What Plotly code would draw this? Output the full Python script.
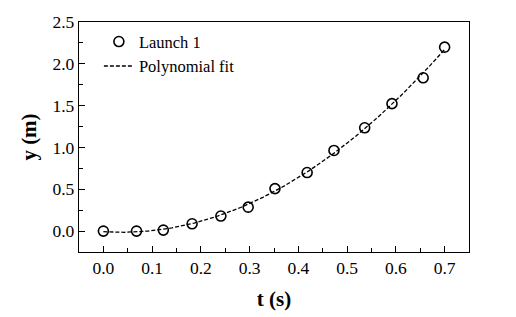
import numpy as np
import plotly.graph_objects as go

t_data = [0.0, 0.068, 0.123, 0.182, 0.241, 0.297, 0.352, 0.418, 0.473, 0.536, 0.592, 0.656, 0.700]
y_data = [0.0, 0.0, 0.012, 0.087, 0.18, 0.286, 0.508, 0.70, 0.964, 1.235, 1.524, 1.833, 2.199]
x_ticks = [0.0, 0.1, 0.2, 0.3, 0.4, 0.5, 0.6, 0.7]
y_ticks = [0.0, 0.5, 1.0, 1.5, 2.0, 2.5]

coef = np.polyfit(t_data, y_data, 2)
t_fit = np.linspace(min(t_data), max(t_data), 200)
y_fit = np.polyval(coef, t_fit)

font = "Times New Roman, Liberation Serif, serif"

fig = go.Figure()
fig.add_trace(go.Scatter(
    x=t_data, y=y_data, mode="markers", name="Launch 1",
    marker=dict(symbol="circle-open", size=10, color="black", line=dict(width=1.6, color="black")),
))
fig.add_trace(go.Scatter(
    x=t_fit, y=y_fit, mode="lines", name="Polynomial fit",
    line=dict(color="black", width=1.3, dash="4px,2px"),
))

axis_common = dict(
    showline=True, linecolor="black", linewidth=1.3, mirror=True,
    ticks="inside", ticklen=6, tickwidth=1, tickcolor="black",
    showgrid=False, zeroline=False, automargin=False,
    tickfont=dict(family=font, size=17.5, color="black"),
)

fig.update_xaxes(
    range=[-0.05, 0.75], tickvals=x_ticks, ticktext=[f"{v:.1f}" for v in x_ticks],
    minor=dict(dtick=0.05, tick0=0.05, ticks="inside", ticklen=3.5, tickcolor="black", showgrid=False),
    title=dict(text="<b>t (s)</b>", font=dict(family=font, size=21, color="black"), standoff=14),
    **axis_common,
)
fig.update_yaxes(
    range=[-0.25, 2.5], tickvals=y_ticks, ticktext=[f"{v:.1f}" for v in y_ticks],
    minor=dict(dtick=0.25, tick0=0.25, ticks="inside", ticklen=3.5, tickcolor="black", showgrid=False),
    title=dict(text="<b>y (m)</b>", font=dict(family=font, size=21, color="black"), standoff=10),
    **axis_common,
)

fig.update_layout(
    width=508, height=309,
    margin=dict(l=71, r=47, t=14, b=65),
    paper_bgcolor="white", plot_bgcolor="white",
    showlegend=True,
    legend=dict(x=0.051, y=0.99, xanchor="left", yanchor="top",
                bgcolor="rgba(0,0,0,0)", font=dict(family=font, size=16.5, color="black"),
                tracegroupgap=0, itemwidth=30),
)

fig.write_html("out.html")
